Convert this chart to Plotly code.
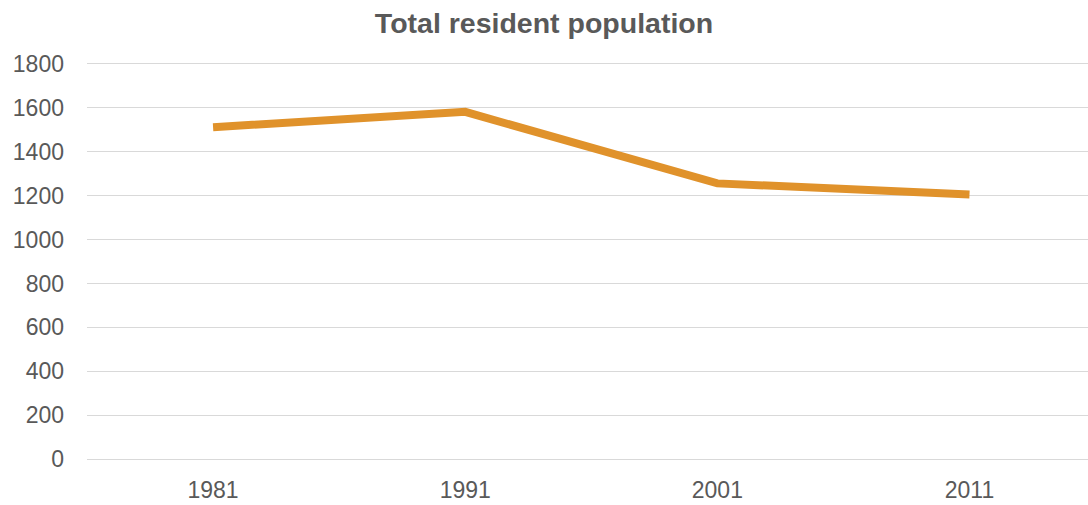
import plotly.graph_objects as go

years = ["1981", "1991", "2001", "2011"]
population = [1512, 1582, 1256, 1205]
y_ticks = [0, 200, 400, 600, 800, 1000, 1200, 1400, 1600, 1800]

fig = go.Figure()
fig.add_trace(go.Scatter(
    x=years, y=population, mode="lines",
    line=dict(color="#E0922B", width=8),
    hoverinfo="x+y",
))

fig.update_layout(
    width=1088, height=505,
    margin=dict(l=87, r=0, t=64, b=46),
    paper_bgcolor="white", plot_bgcolor="white",
    font=dict(family="Liberation Sans, Arial, sans-serif", color="#595959", size=23),
    title=dict(text="<b>Total resident population</b>", x=0.5, xanchor="center",
               y=0.955, yanchor="middle",
               font=dict(size=28.5, color="#595959")),
    showlegend=False,
)
fig.update_xaxes(type="category", range=[-0.5, 3.47], showgrid=False, zeroline=False,
                 showline=True, linecolor="#D9D9D9", linewidth=1, mirror=True,
                 ticks="", ticklabelstandoff=10, automargin=False)
fig.update_yaxes(range=[0, 1800], tickvals=y_ticks, showgrid=True, gridcolor="#D9D9D9",
                 gridwidth=1, zeroline=False, showline=False, ticks="",
                 ticklabelstandoff=22, automargin=False)

fig.write_html("out.html")
